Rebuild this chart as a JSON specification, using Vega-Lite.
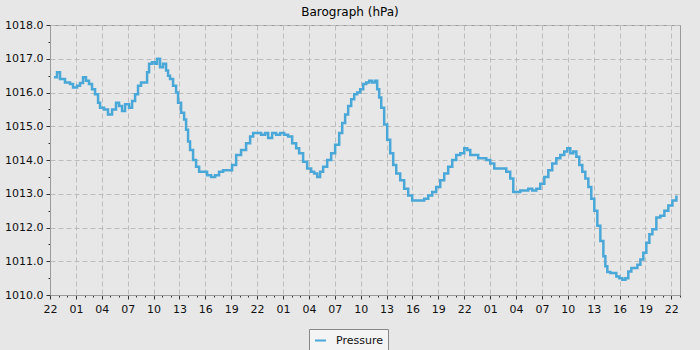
{
  "$schema": "https://vega.github.io/schema/vega-lite/v6.json",
  "autosize": {"type": "none"},
  "padding": {"left": 50, "top": 25, "right": 20, "bottom": 55},
  "width": 630,
  "height": 270,
  "background": "#e7e7e7",
  "config": {
    "font": "DejaVu Sans",
    "view": {"fill": "#e7e7e7", "stroke": "#9a9a9a", "strokeWidth": 1},
    "axis": {"labelFont": "DejaVu Sans", "labelFontSize": 11, "labelColor": "#111", "domainColor": "#9a9a9a", "tickColor": "#333", "gridColor": "#bdbdbd", "gridDash": [5, 3], "gridWidth": 1}
  },
  "title": {"text": "Barograph (hPa)", "fontSize": 12, "fontWeight": "normal", "font": "DejaVu Sans", "color": "#000", "anchor": "middle", "dx": -15, "dy": 19, "offset": 7, "baseline": "bottom"},
  "data": {"values": [
    {"h": 0.46, "p": 1016.45}, {"h": 0.81, "p": 1016.6}, {"h": 1.16, "p": 1016.4}, {"h": 1.74, "p": 1016.3}, {"h": 2.32, "p": 1016.25}, {"h": 2.67, "p": 1016.15}, {"h": 3.13, "p": 1016.2}, {"h": 3.48, "p": 1016.28}, {"h": 3.83, "p": 1016.45}, {"h": 4.17, "p": 1016.35}, {"h": 4.52, "p": 1016.25}, {"h": 4.87, "p": 1016.1}, {"h": 5.22, "p": 1015.95}, {"h": 5.57, "p": 1015.7}, {"h": 5.8, "p": 1015.55}, {"h": 6.26, "p": 1015.5}, {"h": 6.72, "p": 1015.35}, {"h": 7.19, "p": 1015.5}, {"h": 7.65, "p": 1015.7}, {"h": 8.0, "p": 1015.6}, {"h": 8.35, "p": 1015.45}, {"h": 8.7, "p": 1015.65}, {"h": 9.16, "p": 1015.55}, {"h": 9.51, "p": 1015.75}, {"h": 9.86, "p": 1015.95}, {"h": 10.2, "p": 1016.2}, {"h": 10.55, "p": 1016.3}, {"h": 10.9, "p": 1016.3}, {"h": 11.25, "p": 1016.6}, {"h": 11.48, "p": 1016.85}, {"h": 11.83, "p": 1016.9}, {"h": 12.17, "p": 1016.85}, {"h": 12.41, "p": 1017.0}, {"h": 12.75, "p": 1016.75}, {"h": 13.1, "p": 1016.85}, {"h": 13.45, "p": 1016.65}, {"h": 13.68, "p": 1016.5}, {"h": 13.91, "p": 1016.4}, {"h": 14.26, "p": 1016.2}, {"h": 14.61, "p": 1016.0}, {"h": 14.84, "p": 1015.7}, {"h": 15.19, "p": 1015.4}, {"h": 15.54, "p": 1015.2}, {"h": 15.77, "p": 1014.9}, {"h": 16.0, "p": 1014.55}, {"h": 16.23, "p": 1014.3}, {"h": 16.58, "p": 1014.0}, {"h": 16.93, "p": 1013.8}, {"h": 17.28, "p": 1013.65}, {"h": 17.74, "p": 1013.65}, {"h": 18.2, "p": 1013.55}, {"h": 18.67, "p": 1013.5}, {"h": 19.13, "p": 1013.55}, {"h": 19.59, "p": 1013.65}, {"h": 20.06, "p": 1013.7}, {"h": 20.64, "p": 1013.7}, {"h": 21.1, "p": 1013.85}, {"h": 21.57, "p": 1014.15}, {"h": 22.14, "p": 1014.3}, {"h": 22.72, "p": 1014.5}, {"h": 23.19, "p": 1014.7}, {"h": 23.54, "p": 1014.8}, {"h": 24.0, "p": 1014.8}, {"h": 24.46, "p": 1014.75}, {"h": 24.93, "p": 1014.8}, {"h": 25.28, "p": 1014.65}, {"h": 25.74, "p": 1014.8}, {"h": 26.2, "p": 1014.75}, {"h": 26.67, "p": 1014.8}, {"h": 27.13, "p": 1014.75}, {"h": 27.59, "p": 1014.7}, {"h": 28.06, "p": 1014.5}, {"h": 28.52, "p": 1014.35}, {"h": 28.87, "p": 1014.2}, {"h": 29.33, "p": 1013.95}, {"h": 29.8, "p": 1013.75}, {"h": 30.26, "p": 1013.65}, {"h": 30.61, "p": 1013.6}, {"h": 30.96, "p": 1013.5}, {"h": 31.3, "p": 1013.65}, {"h": 31.65, "p": 1013.8}, {"h": 32.12, "p": 1014.0}, {"h": 32.58, "p": 1014.2}, {"h": 33.04, "p": 1014.45}, {"h": 33.51, "p": 1014.8}, {"h": 33.86, "p": 1015.1}, {"h": 34.2, "p": 1015.35}, {"h": 34.55, "p": 1015.6}, {"h": 34.9, "p": 1015.8}, {"h": 35.25, "p": 1015.95}, {"h": 35.59, "p": 1016.0}, {"h": 35.94, "p": 1016.1}, {"h": 36.29, "p": 1016.25}, {"h": 36.64, "p": 1016.3}, {"h": 36.99, "p": 1016.35}, {"h": 37.33, "p": 1016.3}, {"h": 37.68, "p": 1016.35}, {"h": 37.91, "p": 1016.1}, {"h": 38.14, "p": 1015.85}, {"h": 38.38, "p": 1015.55}, {"h": 38.72, "p": 1015.05}, {"h": 39.07, "p": 1014.6}, {"h": 39.42, "p": 1014.2}, {"h": 39.77, "p": 1013.85}, {"h": 40.12, "p": 1013.6}, {"h": 40.58, "p": 1013.4}, {"h": 41.04, "p": 1013.15}, {"h": 41.51, "p": 1012.95}, {"h": 41.97, "p": 1012.8}, {"h": 42.43, "p": 1012.8}, {"h": 42.9, "p": 1012.8}, {"h": 43.36, "p": 1012.85}, {"h": 43.83, "p": 1012.95}, {"h": 44.29, "p": 1013.05}, {"h": 44.75, "p": 1013.2}, {"h": 45.22, "p": 1013.4}, {"h": 45.68, "p": 1013.6}, {"h": 46.14, "p": 1013.8}, {"h": 46.61, "p": 1014.0}, {"h": 47.07, "p": 1014.15}, {"h": 47.54, "p": 1014.2}, {"h": 48.0, "p": 1014.35}, {"h": 48.35, "p": 1014.3}, {"h": 48.7, "p": 1014.15}, {"h": 49.16, "p": 1014.15}, {"h": 49.62, "p": 1014.05}, {"h": 50.09, "p": 1014.05}, {"h": 50.55, "p": 1014.0}, {"h": 51.01, "p": 1013.9}, {"h": 51.48, "p": 1013.75}, {"h": 51.94, "p": 1013.75}, {"h": 52.41, "p": 1013.75}, {"h": 52.87, "p": 1013.65}, {"h": 53.33, "p": 1013.45}, {"h": 53.68, "p": 1013.05}, {"h": 54.03, "p": 1013.05}, {"h": 54.49, "p": 1013.1}, {"h": 54.96, "p": 1013.1}, {"h": 55.42, "p": 1013.15}, {"h": 55.88, "p": 1013.1}, {"h": 56.35, "p": 1013.15}, {"h": 56.81, "p": 1013.3}, {"h": 57.28, "p": 1013.5}, {"h": 57.74, "p": 1013.7}, {"h": 58.2, "p": 1013.9}, {"h": 58.67, "p": 1014.05}, {"h": 59.13, "p": 1014.15}, {"h": 59.59, "p": 1014.25}, {"h": 59.94, "p": 1014.35}, {"h": 60.29, "p": 1014.2}, {"h": 60.64, "p": 1014.25}, {"h": 60.99, "p": 1014.1}, {"h": 61.33, "p": 1013.85}, {"h": 61.68, "p": 1013.65}, {"h": 62.03, "p": 1013.45}, {"h": 62.38, "p": 1013.2}, {"h": 62.72, "p": 1012.85}, {"h": 63.07, "p": 1012.5}, {"h": 63.42, "p": 1012.05}, {"h": 63.77, "p": 1011.6}, {"h": 64.12, "p": 1011.15}, {"h": 64.35, "p": 1010.85}, {"h": 64.58, "p": 1010.68}, {"h": 64.93, "p": 1010.65}, {"h": 65.28, "p": 1010.65}, {"h": 65.62, "p": 1010.55}, {"h": 65.97, "p": 1010.5}, {"h": 66.32, "p": 1010.45}, {"h": 66.67, "p": 1010.5}, {"h": 67.01, "p": 1010.7}, {"h": 67.36, "p": 1010.8}, {"h": 67.71, "p": 1010.8}, {"h": 68.06, "p": 1010.9}, {"h": 68.41, "p": 1011.05}, {"h": 68.75, "p": 1011.25}, {"h": 69.1, "p": 1011.55}, {"h": 69.45, "p": 1011.8}, {"h": 69.8, "p": 1011.95}, {"h": 70.26, "p": 1012.3}, {"h": 70.72, "p": 1012.35}, {"h": 71.19, "p": 1012.5}, {"h": 71.65, "p": 1012.65}, {"h": 72.12, "p": 1012.8}, {"h": 72.58, "p": 1012.95}
  ]},
  "layer": [
    {
      "mark": {"type": "point", "opacity": 0},
      "encoding": {
        "x": {"field": "h", "type": "quantitative", "scale": {"domain": [0, 73], "nice": false, "zero": false},
          "axis": {"orient": "bottom", "values": [0,1,2,3,4,5,6,7,8,9,10,11,12,13,14,15,16,17,18,19,20,21,22,23,24,25,26,27,28,29,30,31,32,33,34,35,36,37,38,39,40,41,42,43,44,45,46,47,48,49,50,51,52,53,54,55,56,57,58,59,60,61,62,63,64,65,66,67,68,69,70,71,72,73], "labels": false, "grid": false, "domain": false, "tickSize": 2, "title": null}},
        "y": {"field": "p", "type": "quantitative", "scale": {"domain": [1010, 1018], "nice": false, "zero": false},
          "axis": {"orient": "left", "values": [1010, 1010.5, 1011, 1011.5, 1012, 1012.5, 1013, 1013.5, 1014, 1014.5, 1015, 1015.5, 1016, 1016.5, 1017, 1017.5, 1018], "labels": false, "grid": false, "domain": false, "tickSize": 2, "title": null}}
      }
    },
    {
      "mark": {"type": "line", "interpolate": "step-after", "strokeWidth": 2.5},
      "encoding": {
        "x": {"field": "h", "type": "quantitative",
          "axis": {"orient": "bottom", "values": [0,3,6,9,12,15,18,21,24,27,30,33,36,39,42,45,48,51,54,57,60,63,66,69,72], "labelExpr": "((datum.value+22)%24 < 10 ? '0' : '') + ((datum.value+22)%24)", "tickSize": 4, "labelPadding": 4, "grid": true, "title": null, "labelFlush": false, "labelOverlap": false}},
        "y": {"field": "p", "type": "quantitative",
          "axis": {"orient": "left", "values": [1010, 1011, 1012, 1013, 1014, 1015, 1016, 1017, 1018], "format": ".1f", "tickSize": 4, "labelPadding": 3, "grid": true, "title": null, "labelFlush": false, "labelOverlap": false}},
        "color": {"datum": "Pressure", "type": "nominal", "scale": {"range": ["#4aa8d8"]},
          "legend": {"title": null, "orient": "none", "legendX": 259, "legendY": 304, "symbolType": "stroke", "symbolStrokeWidth": 2, "symbolSize": 120, "labelFontSize": 11, "labelFont": "DejaVu Sans", "labelColor": "#111", "labelOffset": 9, "fillColor": "#f4f4f4", "strokeColor": "#888", "padding": 5, "cornerRadius": 0}}
      }
    }
  ],
  "resolve": {"axis": {"x": "independent", "y": "independent"}}
}
